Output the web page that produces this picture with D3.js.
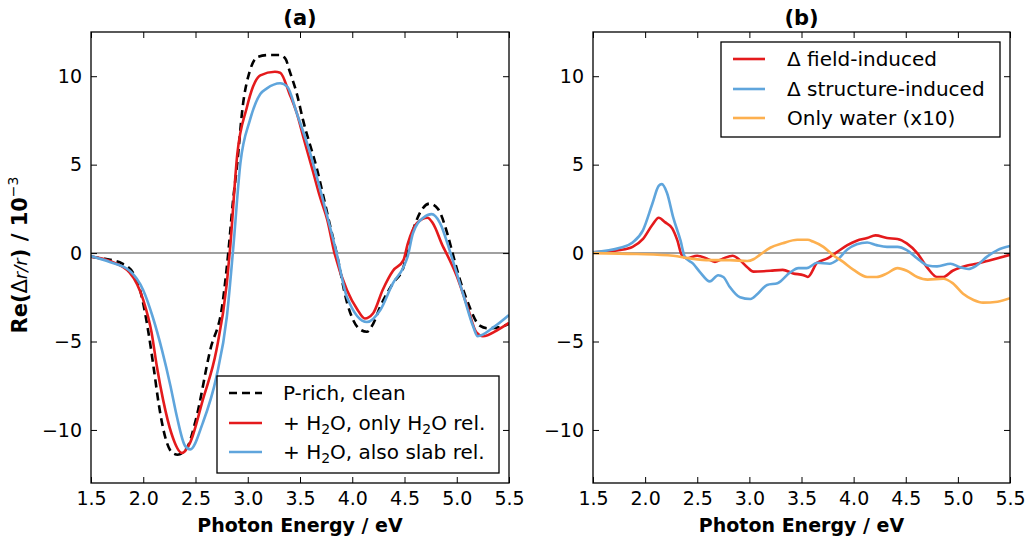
<!DOCTYPE html>
<html><head><meta charset="utf-8">
<script src="https://cdn.jsdelivr.net/npm/d3@7"></script>
<style>body{margin:0;background:#fff;} text{font-family:"DejaVu Sans",sans-serif;}</style>
</head><body>
<svg id="c" width="1027" height="541"></svg>
<script>
// ---------- data ----------
const xTicks = [1.5,2.0,2.5,3.0,3.5,4.0,4.5,5.0,5.5];
const yTicks = [-10,-5,0,5,10];
const panelTitles = ["(a)","(b)"];

const cleanX = [1.5,1.6,1.7,1.8,1.9,1.97,2.05,2.1,2.15,2.21,2.28,2.33,2.42,2.5,2.64,2.76,2.81,2.86,2.9,2.95,3.02,3.1,3.2,3.3,3.36,3.4,3.47,3.53,3.66,3.79,3.85,3.95,4.07,4.14,4.2,4.27,4.39,4.49,4.53,4.65,4.74,4.82,4.91,4.96,5.03,5.1,5.22,5.3,5.4,5.5];
const cleanY = [-0.2,-0.3,-0.4,-0.6,-1.1,-2.1,-4.5,-6.5,-8.6,-10.4,-11.3,-11.4,-11.0,-9.5,-5.5,-2.8,-0.2,3.0,5.1,8.2,10.3,11.1,11.2,11.2,11.0,10.3,9.0,7.5,4.8,1.5,0,-2.8,-4.3,-4.45,-4.0,-3.0,-1.7,-0.8,0.2,2.3,2.8,2.5,1.1,0,-1.5,-2.7,-4.1,-4.25,-4.2,-4.0];

const h2oX = [1.5,1.68,1.87,2.0,2.08,2.13,2.19,2.27,2.37,2.45,2.57,2.7,2.8,2.83,2.9,2.99,3.05,3.12,3.26,3.31,3.4,3.47,3.53,3.62,3.69,3.76,3.83,3.95,4.05,4.12,4.2,4.29,4.39,4.49,4.53,4.62,4.72,4.77,4.87,4.9,5.0,5.1,5.19,5.25,5.39,5.5];
const h2oY = [-0.2,-0.45,-1.1,-2.65,-4.5,-6.4,-8.3,-10.2,-11.3,-10.7,-8.3,-5.5,-1.7,0.2,5.6,8.2,9.4,10.05,10.25,10.2,9.0,7.9,6.6,4.7,3.2,1.9,0,-2.1,-3.2,-3.7,-3.4,-2.1,-1.0,-0.4,0.5,1.7,2.0,1.7,0.35,0,-1.3,-3.0,-4.5,-4.7,-4.35,-3.95];

const slabX = [1.5,1.68,1.87,2.0,2.09,2.18,2.26,2.32,2.4,2.45,2.57,2.7,2.8,2.86,2.93,3.02,3.12,3.18,3.31,3.38,3.47,3.6,3.72,3.85,3.95,4.14,4.27,4.39,4.49,4.53,4.58,4.68,4.76,4.84,4.94,5.06,5.16,5.2,5.35,5.5];
const slabY = [-0.17,-0.5,-1.0,-2.1,-3.6,-5.5,-7.5,-9.2,-10.9,-11.1,-9.6,-7.0,-3.6,0.2,5.1,7.5,9.0,9.3,9.6,9.4,7.9,5.6,3.0,0,-2.5,-3.9,-3.2,-1.7,-0.8,-0.2,1.1,2.0,2.2,1.7,0,-2.3,-4.2,-4.7,-4.2,-3.5];

const fieldX = [1.5,1.76,1.88,1.98,2.07,2.13,2.19,2.26,2.31,2.35,2.4,2.5,2.59,2.67,2.75,2.84,2.91,2.98,3.04,3.2,3.32,3.42,3.52,3.56,3.65,3.75,3.84,3.94,4.03,4.13,4.21,4.32,4.42,4.51,4.61,4.71,4.8,4.86,4.95,5.09,5.18,5.31,5.5];
const fieldY = [0.05,0.17,0.35,0.8,1.6,2.0,1.75,1.4,0.7,-0.1,-0.3,-0.15,-0.3,-0.5,-0.3,-0.15,-0.4,-0.8,-1.05,-1.0,-0.95,-1.15,-1.25,-1.35,-0.55,-0.3,0.05,0.45,0.7,0.85,1.0,0.85,0.8,0.55,0,-0.85,-1.35,-1.35,-1.0,-0.7,-0.6,-0.4,-0.1];

const structX = [1.5,1.76,1.88,1.98,2.07,2.13,2.16,2.21,2.27,2.34,2.38,2.46,2.53,2.62,2.7,2.75,2.81,2.91,3.01,3.08,3.17,3.27,3.39,3.47,3.55,3.65,3.77,3.84,3.94,4.03,4.13,4.22,4.32,4.42,4.51,4.61,4.71,4.8,4.93,5.02,5.1,5.18,5.28,5.38,5.5];
const structY = [0.05,0.3,0.6,1.3,2.8,3.8,3.9,3.4,2.0,0.7,-0.2,-0.6,-1.1,-1.6,-1.25,-1.35,-1.9,-2.5,-2.6,-2.3,-1.8,-1.7,-1.1,-0.85,-0.85,-0.55,-0.6,-0.4,0.2,0.5,0.6,0.45,0.35,0.35,0.17,-0.3,-0.7,-0.75,-0.6,-0.8,-0.9,-0.7,-0.2,0.17,0.4];

const waterX = [1.5,1.92,2.27,2.43,2.62,2.81,2.98,3.04,3.1,3.2,3.32,3.46,3.56,3.61,3.71,3.8,3.9,4.0,4.13,4.22,4.32,4.42,4.51,4.61,4.71,4.86,4.95,5.05,5.15,5.24,5.38,5.5];
const waterY = [0,-0.05,-0.15,-0.3,-0.4,-0.4,-0.45,-0.35,-0.1,0.3,0.55,0.75,0.75,0.65,0.35,-0.1,-0.5,-0.95,-1.35,-1.35,-1.15,-0.85,-1.0,-1.35,-1.5,-1.45,-1.7,-2.3,-2.65,-2.8,-2.75,-2.55];

const legendA = ["P-rich, clean", "+ H2O, only H2O rel.", "+ H2O, also slab rel."];
const legendB = ["Δ field-induced", "Δ structure-induced", "Only water (x10)"];
const colRed = "#e41a1c", colBlue = "#5fa5dc", colOrange = "#fdb04f";

// ---------- drawing ----------
const svg = d3.select("#c");
const yTop = 32, yBot = 483;
const panels = [{x0:91, x1:509}, {x0:593, x1:1010}];
const y = d3.scaleLinear().domain([-13, 12.5]).range([yBot, yTop]);

function toPts(xs, ys){ return xs.map((v,i)=>[v, ys[i]]); }

function addSubText(sel, str){
  const parts = str.split(/(H2O)/);
  parts.forEach(p=>{
    if(p==="H2O"){
      sel.append("tspan").text("H");
      sel.append("tspan").attr("font-size","14px").attr("dy","4").text("2");
      sel.append("tspan").attr("dy","-4").text("O");
    } else if(p.length) sel.append("tspan").text(p);
  });
}

panels.forEach((p, idx)=>{
  const x = d3.scaleLinear().domain([1.5,5.5]).range([p.x0, p.x1]);
  const g = svg.append("g");
  const clipId = "clip"+idx;
  svg.append("clipPath").attr("id",clipId).append("rect")
    .attr("x",p.x0).attr("y",yTop).attr("width",p.x1-p.x0).attr("height",yBot-yTop);

  g.append("line").attr("x1",p.x0).attr("x2",p.x1).attr("y1",y(0)).attr("y2",y(0))
    .attr("stroke","#808080").attr("stroke-width",1.5);

  const line = d3.line().x(d=>x(d[0])).y(d=>y(d[1])).curve(d3.curveMonotoneX);
  const curves = idx===0 ? [
      {d:toPts(cleanX,cleanY), c:"#000", dash:"8,5"},
      {d:toPts(h2oX,h2oY), c:colRed},
      {d:toPts(slabX,slabY), c:colBlue}
    ] : [
      {d:toPts(fieldX,fieldY), c:colRed},
      {d:toPts(structX,structY), c:colBlue},
      {d:toPts(waterX,waterY), c:colOrange}
    ];
  const cg = g.append("g").attr("clip-path",`url(#${clipId})`);
  curves.forEach(cv=>{
    cg.append("path").attr("d", line(cv.d)).attr("fill","none")
      .attr("stroke",cv.c).attr("stroke-width",2.6)
      .attr("stroke-dasharray", cv.dash||null);
  });

  const ax = (gen)=>gen.tickSizeInner(-6).tickSizeOuter(0).tickPadding(9);
  const gb = g.append("g").attr("transform",`translate(0,${yBot})`)
    .call(ax(d3.axisBottom(x).tickValues(xTicks).tickFormat(d3.format(".1f"))));
  const gt = g.append("g").attr("transform",`translate(0,${yTop})`)
    .call(ax(d3.axisTop(x).tickValues(xTicks)).tickFormat(""));
  const gl = g.append("g").attr("transform",`translate(${p.x0},0)`)
    .call(ax(d3.axisLeft(y).tickValues(yTicks).tickFormat(d=>d<0?"\u2212"+Math.abs(d):d)));
  const gr = g.append("g").attr("transform",`translate(${p.x1},0)`)
    .call(ax(d3.axisRight(y).tickValues(yTicks)).tickFormat(""));
  [gb,gt,gl,gr].forEach(a=>{
    a.select(".domain").remove();
    a.selectAll("line").attr("stroke","#000").attr("stroke-width",1);
    a.selectAll("text").attr("font-size","19px").attr("fill","#000")
      .attr("font-family","DejaVu Sans, sans-serif");
  });
  g.append("rect").attr("x",p.x0).attr("y",yTop).attr("width",p.x1-p.x0).attr("height",yBot-yTop)
    .attr("fill","none").attr("stroke","#000").attr("stroke-width",1.3);

  g.append("text").attr("x",(p.x0+p.x1)/2).attr("y",25).attr("text-anchor","middle")
    .attr("font-size","21px").attr("font-weight","bold").text(panelTitles[idx]);
  g.append("text").attr("x",(p.x0+p.x1)/2).attr("y",532).attr("text-anchor","middle")
    .attr("font-size","19px").attr("font-weight","bold").text("Photon Energy / eV");

  const L = idx===0 ? {x:217,y:376,w:282,h:97,lx0:229,lx1:262,tx:283,rows:[393,423,452]}
                    : {x:721,y:42,w:279,h:95,lx0:733,lx1:765,tx:787,rows:[59,89,118]};
  const lg = g.append("g");
  lg.append("rect").attr("x",L.x).attr("y",L.y).attr("width",L.w).attr("height",L.h)
    .attr("fill","#fff").attr("stroke","#000").attr("stroke-width",1.3);
  const labels = idx===0 ? legendA : legendB;
  labels.forEach((lab,i)=>{
    const cv = curves[i];
    lg.append("line").attr("x1",L.lx0).attr("x2",L.lx1).attr("y1",L.rows[i]).attr("y2",L.rows[i])
      .attr("stroke",cv.c).attr("stroke-width",2.6).attr("stroke-dasharray",cv.dash||null);
    const t = lg.append("text").attr("x",L.tx).attr("y",L.rows[i]+7).attr("font-size","20px");
    addSubText(t, lab);
  });
});

const yl = svg.append("text").attr("transform","translate(27,255) rotate(-90)")
  .attr("text-anchor","middle").attr("font-size","21px").attr("font-weight","bold");
yl.append("tspan").text("Re(");
yl.append("tspan").attr("font-weight","normal").text("Δ");
yl.append("tspan").attr("font-weight","normal").attr("font-style","italic").attr("font-size","18px").text("r/r");
yl.append("tspan").text(") / 10");
yl.append("tspan").attr("font-weight","normal").attr("font-size","14px").attr("dy","-9").text("\u22123");
</script>
</body></html>
